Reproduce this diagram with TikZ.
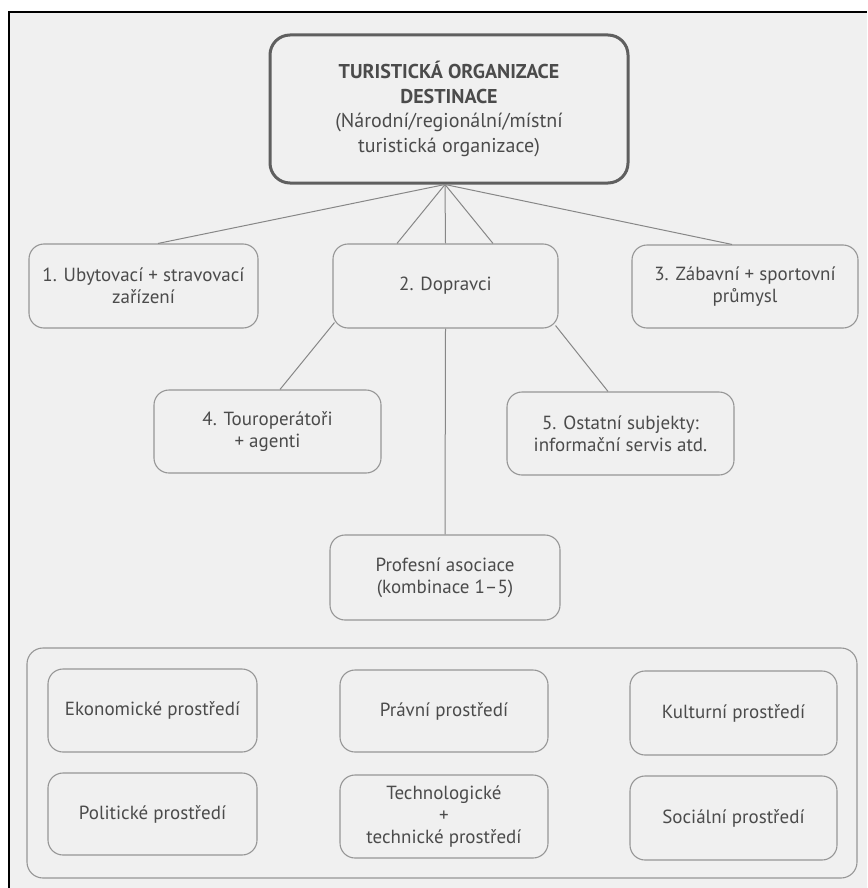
\documentclass[tikz,border=0pt]{standalone}
\usepackage{fontspec}
\setmainfont{PT Sans}
\definecolor{pagebg}{RGB}{240,240,240}
\definecolor{txt}{RGB}{75,75,75}
\definecolor{edge}{RGB}{150,150,150}
\definecolor{lnk}{RGB}{135,135,135}
\definecolor{topedge}{RGB}{95,95,95}
\tikzset{
  box/.style={draw=edge, line width=1.1pt, rounded corners=15pt, text=txt,
    align=center, inner sep=2pt, font=\fontsize{19}{22}\selectfont},
  topbox/.style={box, draw=topedge, line width=3pt, rounded corners=20pt,
    font=\fontsize{20}{24.5}\selectfont},
  outerbox/.style={draw=edge, line width=1.1pt, rounded corners=16pt},
  link/.style={draw=lnk, line width=1pt},
}
\begin{document}
\begin{tikzpicture}[x=1pt,y=-1pt]
\useasboundingbox (0,0) rectangle (867,888);
\fill[white] (0,0) rectangle (867,888);
\fill[pagebg] (9,12) rectangle (867,888);
\draw[black, line width=2.5pt] (9,888) -- (9,12) -- (867,12);

\node[topbox, minimum width=358, minimum height=148] (top) at (449,109)
  {\textbf{TURISTICKÁ ORGANIZACE}\\\textbf{DESTINACE}\\(Národní/regionální/místní\\turistická organizace)};

\node[box, minimum width=229, minimum height=84] (b1) at (143.5,286) {1. Ubytovací + stravovací\\zařízení};
\node[box, minimum width=225, minimum height=84] (b2) at (445.5,286) {2. Dopravci};
\node[box, minimum width=226, minimum height=83] (b3) at (745,286.5) {3. Zábavní + sportovní\\průmysl};
\node[box, minimum width=227, minimum height=83] (b4) at (267.5,431.5) {4. Touroperátoři\\+ agenti};
\node[box, minimum width=227, minimum height=83] (b5) at (620.5,433.5) {5. Ostatní subjekty:\\informační servis atd.};
\node[box, minimum width=230, minimum height=85] (prof) at (445,577.5) {Profesní asociace\\(kombinace 1–5)};

\node[outerbox, minimum width=830, minimum height=230] (outer) at (442,763) {};
\node[box, minimum width=209, minimum height=83] (eko) at (152.5,710.5) {Ekonomické prostředí};
\node[box, minimum width=208, minimum height=82] (pra) at (444,711) {Právní prostředí};
\node[box, minimum width=207, minimum height=84] (kul) at (733.5,713) {Kulturní prostředí};
\node[box, minimum width=209, minimum height=82] (pol) at (152.5,814) {Politické prostředí};
\node[box, minimum width=208, minimum height=83] (tec) at (444,816.5) {Technologické\\+\\technické prostředí};
\node[box, minimum width=207, minimum height=84] (soc) at (733.5,818) {Sociální prostředí};

\coordinate (hub) at ([xshift=-4pt]top.south);
\draw[link] (hub) -- ([xshift=14.5pt]b1.north);
\draw[link] (hub) -- ([xshift=-48.5pt]b2.north);
\draw[link] (hub) -- (b2.north);
\draw[link] (hub) -- ([xshift=47.5pt]b2.north);
\draw[link] (hub) -- ([xshift=-13pt]b3.north);
\draw[link] ([xshift=2pt,yshift=6pt]b2.south west) -- ([xshift=12.5pt]b4.north);
\draw[link] ([xshift=-3pt,yshift=3pt]b2.south east) -- ([xshift=-12.5pt]b5.north);
\draw[link] (b2.south) -- (prof.north);
\end{tikzpicture}
\end{document}
